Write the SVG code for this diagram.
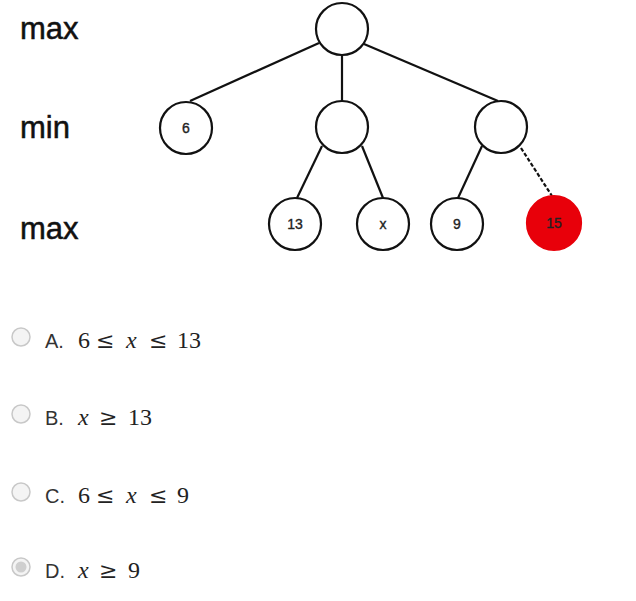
<svg xmlns="http://www.w3.org/2000/svg" width="636" height="601" viewBox="0 0 636 601">
<style>
.lvl{font-family:"Liberation Sans",Arial,sans-serif;font-size:31px;fill:#111;stroke:#111;stroke-width:0.5;}
.node circle{fill:#fff;stroke:#111;stroke-width:2.2;}
.node text{font-family:"Liberation Sans",Arial,sans-serif;font-size:14px;fill:#222;text-anchor:middle;stroke:#222;stroke-width:0.35;}
.edge{stroke:#111;stroke-width:2.2;fill:none;}
.radio{fill:#f4f4f4;stroke:#c8c8c8;stroke-width:1.5;}
.lab{font-family:"Liberation Sans",Arial,sans-serif;font-size:20px;fill:#333;}
.m{font-family:"Liberation Serif","Times New Roman",serif;font-size:24px;fill:#222;}
.r{font-family:"DejaVu Serif",serif;font-size:22px;fill:#222;}
.mi{font-family:"Liberation Serif","Times New Roman",serif;font-size:24px;font-style:italic;fill:#222;}
</style>
<rect width="636" height="601" fill="#fff"/>
<text class="lvl" x="20" y="39">max</text>
<text class="lvl" x="20" y="138">min</text>
<text class="lvl" x="20" y="239">max</text>
<g id="connectors">
<line class="edge" x1="319" y1="43" x2="190" y2="101"/>
<line class="edge" x1="342" y1="56" x2="342" y2="101"/>
<line class="edge" x1="364" y1="44" x2="498" y2="101"/>
<line class="edge" x1="322" y1="146" x2="297" y2="198"/>
<line class="edge" x1="362" y1="146" x2="383" y2="198"/>
<line class="edge" x1="482" y1="146" x2="458" y2="198"/>
<line class="edge" x1="521" y1="148" x2="552" y2="196" stroke-dasharray="4,2" stroke-width="2.6"/>
</g>
<g id="root" class="node"><circle cx="342" cy="29" r="26"/></g>
<g id="n6" class="node"><circle cx="186" cy="128" r="26"/><text x="186" y="133">6</text></g>
<g id="nmid" class="node"><circle cx="342" cy="127" r="26"/></g>
<g id="nright" class="node"><circle cx="501" cy="127" r="26"/></g>
<g id="n13" class="node"><circle cx="295" cy="224" r="26"/><text x="295" y="229">13</text></g>
<g id="nx" class="node"><circle cx="383" cy="224" r="26"/><text x="383" y="229">x</text></g>
<g id="n9" class="node"><circle cx="457" cy="224" r="26"/><text x="457" y="229">9</text></g>
<g id="n15" class="node"><circle cx="554" cy="223" r="27" style="fill:#e8000a;stroke:#e8000a"/><text x="554" y="228">15</text></g>

<circle class="radio" cx="21" cy="337" r="9"/>
<text class="lab" x="45" y="348">A.</text>
<text class="m" x="78" y="348">6</text><text class="r" x="96" y="348">≤</text><text class="mi" x="126" y="348">x</text><text class="r" x="149" y="348">≤</text><text class="m" x="177" y="348">13</text>

<circle class="radio" cx="21" cy="414" r="9"/>
<text class="lab" x="45" y="425">B.</text>
<text class="mi" x="78" y="425">x</text><text class="r" x="99" y="425">≥</text><text class="m" x="128" y="425">13</text>

<circle class="radio" cx="21" cy="492" r="9"/>
<text class="lab" x="45" y="503">C.</text>
<text class="m" x="78" y="503">6</text><text class="r" x="96" y="503">≤</text><text class="mi" x="126" y="503">x</text><text class="r" x="149" y="503">≤</text><text class="m" x="177" y="503">9</text>

<circle class="radio" cx="21" cy="567" r="9"/>
<circle cx="21" cy="567" r="5.5" fill="#cfcfcf"/>
<text class="lab" x="45" y="578">D.</text>
<text class="mi" x="78" y="578">x</text><text class="r" x="99" y="578">≥</text><text class="m" x="128" y="578">9</text>
</svg>
